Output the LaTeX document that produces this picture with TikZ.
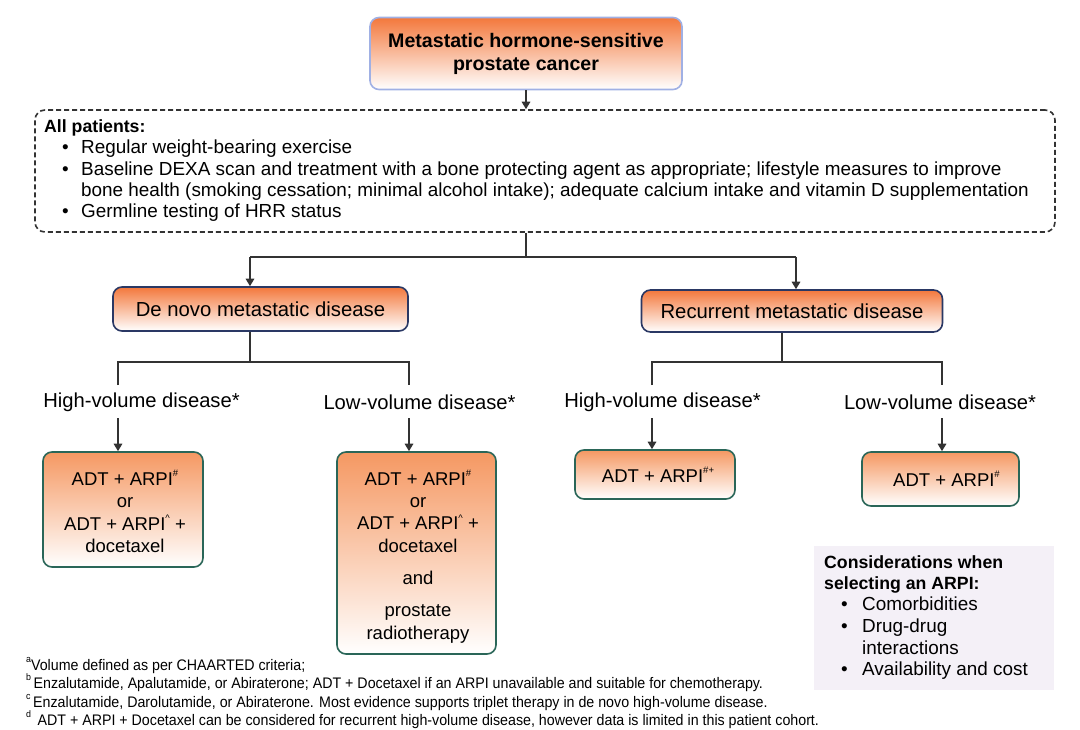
\documentclass[tikz,border=0pt]{standalone}
\usepackage{fontspec}
\setmainfont{Liberation Sans}
\newfontfamily\condfont[FakeStretch=0.93]{Liberation Sans}
\usetikzlibrary{arrows.meta}
\definecolor{ln}{HTML}{333333}
\definecolor{orangeA}{RGB}{243,120,60}
\definecolor{orangeB}{RGB}{245,152,98}
\definecolor{hdrborder}{RGB}{160,176,228}
\definecolor{navyborder}{RGB}{42,56,100}
\definecolor{tealborder}{RGB}{42,102,88}
\definecolor{lav}{RGB}{244,240,247}
\newcommand{\supx}[1]{\raisebox{0.9ex}{\fontsize{9.5}{9.5}\selectfont #1}}
\tikzset{
  conn/.style={draw=ln, line width=1.6pt},
  arr/.style={conn, -{Triangle[length=7.5pt,width=8.5pt]}},
  hdrbox/.style={draw=hdrborder, line width=1.6pt, rounded corners=9pt, top color=orangeA, bottom color=white, align=center, inner sep=0pt},
  catbox/.style={draw=navyborder, line width=1.6pt, rounded corners=9pt, top color=orangeA, bottom color=white, align=center, inner sep=0pt, font=\fontsize{20.3}{22}\selectfont},
  txbox/.style={draw=tealborder, line width=1.6pt, rounded corners=9pt, top color=orangeB, bottom color=white, align=center, inner sep=0pt, font=\fontsize{18.5}{22.3}\selectfont},
  txtxt/.style={align=center, inner sep=0pt, font=\fontsize{18.5}{22.3}\selectfont},
  lbl/.style={font=\fontsize{20.2}{22}\selectfont, inner sep=0pt},
  ltxt/.style={anchor=west, inner sep=0pt, font=\fontsize{18.9}{22}\selectfont, text height=13.5pt, text depth=4pt},
  btxt/.style={ltxt, font=\bfseries\fontsize{17.7}{22}\selectfont},
  foot/.style={anchor=west, inner sep=0pt, font=\condfont\fontsize{15.3}{17}\selectfont, text height=11pt, text depth=3pt},
}
\begin{document}
\begin{tikzpicture}[x=1pt,y=-1pt]
\useasboundingbox[fill=white] (0,0) rectangle (1080,730);

% header
\node[hdrbox, minimum width=312pt, minimum height=72pt, font=\bfseries\fontsize{19.6}{23}\selectfont] (top) at (526,53.5) {Metastatic hormone-sensitive\\prostate cancer};

% all patients box
\node[draw=ln, line width=1.6pt, dash pattern=on 5pt off 3pt, rounded corners=10pt, minimum width=1020pt, minimum height=122pt, inner sep=0pt] (allp) at (545,171) {};
\node[btxt] (t0) at (44,128) {All patients:};
\node[ltxt] (b1) at (62,149) {•};
\node[ltxt] (t1) at (81,149) {Regular weight-bearing exercise};
\node[ltxt] (b2) at (62,171) {•};
\node[ltxt] (t2) at (81,171) {Baseline DEXA scan and treatment with a bone protecting agent as appropriate; lifestyle measures to improve};
\node[ltxt] (t3) at (81,192) {bone health (smoking cessation; minimal alcohol intake); adequate calcium intake and vitamin D supplementation};
\node[ltxt] (b4) at (62,213) {•};
\node[ltxt] (t4) at (81,213) {Germline testing of HRR status};

\draw[arr] (top.south) -- (top.south |- allp.north);

% categories
\node[catbox, minimum width=295pt, minimum height=44pt] (denovo) at (260.5,309) {De novo metastatic disease};
\node[catbox, minimum width=301pt, minimum height=42pt] (recur) at (792,311) {Recurrent metastatic disease};

\coordinate (j1) at (526,257);
\coordinate (dn) at (250,257);
\coordinate (rc) at (796,257);
\draw[conn] (top.south |- allp.south) -- (j1);
\draw[conn] (dn) -- (rc);
\draw[arr] (dn) -- (dn |- denovo.north);
\draw[arr] (rc) -- (rc |- recur.north);

% de novo branches
\coordinate (dj) at (250,362);
\coordinate (dl) at (118,385);
\coordinate (dr) at (409,385);
\draw[conn] (dj |- denovo.south) -- (dj);
\draw[conn] (dl) |- (dj) -| (dr);

% recurrent branches
\coordinate (rj) at (782,362);
\coordinate (rl) at (652,385);
\coordinate (rr) at (942,385);
\draw[conn] (rj |- recur.south) -- (rj);
\draw[conn] (rl) |- (rj) -| (rr);

% labels
\node[lbl] (hv1) at (141.5,402) {High-volume disease*};
\node[lbl] (lv1) at (419.5,402) {Low-volume disease*};
\node[lbl] (hv2) at (662.5,402) {High-volume disease*};
\node[lbl] (lv2) at (940,402) {Low-volume disease*};

% treatment boxes
\node[txbox, minimum width=160pt, minimum height=115pt] (tx1) at (123,509.5) {};
\node[txtxt] (tx1t) at (125,511.5) {ADT + ARPI\supx{\#}\\or\\ADT + ARPI\supx{\textasciicircum} +\\docetaxel};
\node[txbox, minimum width=159pt, minimum height=202pt] (tx2) at (416.5,553) {};
\node[txtxt] (tx2t) at (418,556.5) {ADT + ARPI\supx{\#}\\or\\ADT + ARPI\supx{\textasciicircum} +\\docetaxel\\[10pt]and\\[10pt]prostate\\radiotherapy};
\node[txbox, minimum width=160pt, minimum height=49pt] (tx3) at (655,474.5) {\hspace*{6pt}ADT + ARPI\supx{\#+}};
\node[txbox, minimum width=157pt, minimum height=54pt] (tx4) at (940.5,479) {\hspace*{12pt}ADT + ARPI\supx{\#}};

\coordinate (a1) at (118,418);
\coordinate (a2) at (409,418);
\coordinate (a3) at (652,418);
\coordinate (a4) at (942,418);
\draw[arr] (a1) -- (a1 |- tx1.north);
\draw[arr] (a2) -- (a2 |- tx2.north);
\draw[arr] (a3) -- (a3 |- tx3.north);
\draw[arr] (a4) -- (a4 |- tx4.north);

% considerations
\node[fill=lav, minimum width=240pt, minimum height=144pt, inner sep=0pt] (cons) at (934,618) {};
\node[btxt] (c0) at (824,564) {Considerations when};
\node[btxt] (c1) at (824,585) {selecting an ARPI:};
\node[ltxt] (cb1) at (841,606) {•};
\node[ltxt] (c2) at (862,606) {Comorbidities};
\node[ltxt] (cb2) at (841,628) {•};
\node[ltxt] (c3) at (862,628) {Drug-drug};
\node[ltxt] (c4) at (862,650) {interactions};
\node[ltxt] (cb3) at (841,671) {•};
\node[ltxt] (c5) at (862,671) {Availability and cost};

% footnotes
\node[foot] (f1) at (26,666) {\supx{a}Volume defined as per CHAARTED criteria;};
\node[foot] (f2) at (26,684) {\supx{b}\,Enzalutamide, Apalutamide, or Abiraterone; ADT + Docetaxel if an ARPI unavailable and suitable for chemotherapy.};
\node[foot] (f3) at (26,703) {\supx{c}\,Enzalutamide, Darolutamide, or Abiraterone. Most evidence supports triplet therapy in de novo high-volume disease.};
\node[foot] (f4) at (26,721) {\supx{d}\, ADT + ARPI + Docetaxel can be considered for recurrent high-volume disease, however data is limited in this patient cohort.};
\end{tikzpicture}
\end{document}
